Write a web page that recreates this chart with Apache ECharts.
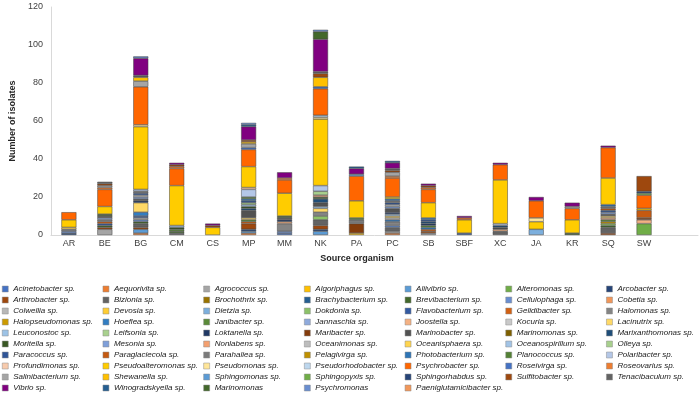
<!DOCTYPE html>
<html>
<head>
<meta charset="utf-8">
<script src="https://cdn.jsdelivr.net/npm/echarts@6/dist/echarts.min.js"></script>
<style>
  html, body { margin: 0; padding: 0; background: #fff; }
  #chart { width: 700px; height: 395px; }
</style>
</head>
<body>
<div id="chart"></div>
<script>
// site labels (last slot is the empty one Excel leaves on the right)
const categories = ["AR", "BE", "BG", "CM", "CS", "MP", "MM", "NK", "PA", "PC", "SB", "SBF", "XC", "JA", "KR", "SQ", "SW", ""];
const yTicks = [0, 20, 40, 60, 80, 100, 120];

// genera in legend / stacking order
const genera = [
  "Acinetobacter sp.", "Aequorivita sp.", "Agrococcus sp.", "Algoriphagus sp.", "Aliivibrio sp.", "Alteromonas sp.", "Arcobacter sp.",
  "Arthrobacter sp.", "Bizionia sp.", "Brochothrix sp.", "Brachybacterium sp.", "Brevibacterium sp.", "Cellulophaga sp.", "Cobetia sp.",
  "Colwellia sp.", "Devosia sp.", "Dietzia sp.", "Dokdonia sp.", "Flavobacterium sp.", "Gelidibacter sp.", "Halomonas sp.",
  "Halopseudomonas sp.", "Hoeflea sp.", "Janibacter sp.", "Jannaschia sp.", "Joostella sp.", "Kocuria sp.", "Lacinutrix sp.",
  "Leuconostoc sp.", "Leifsonia sp.", "Loktanella sp.", "Maribacter sp.", "Marinobacter sp.", "Marinomonas sp.", "Marixanthomonas sp.",
  "Moritella sp.", "Mesonia sp.", "Nonlabens sp.", "Oceanimonas sp.", "Oceanisphaera sp.", "Oceanospirillum sp.", "Olleya sp.",
  "Paracoccus sp.", "Paraglaciecola sp.", "Parahaliea sp.", "Pelagivirga sp.", "Photobacterium sp.", "Planococcus sp.", "Polaribacter sp.",
  "Profundimonas sp.", "Pseudoalteromonas sp.", "Pseudomonas sp.", "Pseudorhodobacter sp.", "Psychrobacter sp.", "Roseivirga sp.", "Roseovarius sp.",
  "Salinibacterium sp.", "Shewanella sp.", "Sphingomonas sp.", "Sphingopyxis sp.", "Sphingorhabdus sp.", "Sulfitobacter sp.", "Tenacibaculum sp.",
  "Vibrio sp.", "Winogradskyella sp.", "Marinomonas", "Psychromonas", "Paeniglutamicibacter sp."
];

const colors = [
  "#4472C4", "#ED7D31", "#A5A5A5", "#FFC000", "#5B9BD5", "#70AD47", "#264478",
  "#9E480E", "#636363", "#997300", "#255E91", "#43682B", "#698ED0", "#F1975A",
  "#B7B7B7", "#FFCD33", "#7CAFDD", "#8CC168", "#335AA1", "#D26012", "#848484",
  "#CC9A00", "#327DC2", "#5A8A39", "#8FAADC", "#F4B183", "#C9C9C9", "#FFD966",
  "#9DC3E6", "#A9D18E", "#203864", "#843C0C", "#525252", "#7F6000", "#1F4E79",
  "#385723", "#7F9FD9", "#F4A070", "#BDBDBD", "#FFD54F", "#A2C4E6", "#A8D08D",
  "#2F5597", "#C55A11", "#7B7B7B", "#BF9000", "#2E75B6", "#538135", "#B4C7E7",
  "#F8CBAD", "#FFCC00", "#FFE699", "#BDD7EE", "#FF6600", "#4472C4", "#ED7D31",
  "#A5A5A5", "#FFC000", "#5B9BD5", "#70AD47", "#264478", "#9E480E", "#636363",
  "#800080", "#255E91", "#43682B", "#698ED0", "#F1975A"
];

// isolates per genus for each site
const AR = [["Arcobacter sp.", 1], ["Cellulophaga sp.", 1], ["Halomonas sp.", 1], ["Lacinutrix sp.", 1],
  ["Pseudoalteromonas sp.", 4], ["Psychrobacter sp.", 4]];
const BE = [["Agrococcus sp.", 3], ["Arthrobacter sp.", 1], ["Brevibacterium sp.", 1], ["Flavobacterium sp.", 1],
  ["Gelidibacter sp.", 1], ["Halomonas sp.", 1], ["Jannaschia sp.", 1], ["Marinobacter sp.", 1], ["Moritella sp.", 1],
  ["Pseudoalteromonas sp.", 4], ["Psychrobacter sp.", 9], ["Roseovarius sp.", 1], ["Salinibacterium sp.", 1],
  ["Sulfitobacter sp.", 1], ["Tenacibaculum sp.", 1]];
const BG = [["Aequorivita sp.", 1], ["Aliivibrio sp.", 2], ["Arthrobacter sp.", 1], ["Bizionia sp.", 2],
  ["Brevibacterium sp.", 1], ["Cellulophaga sp.", 1], ["Colwellia sp.", 1], ["Flavobacterium sp.", 1], ["Hoeflea sp.", 2],
  ["Lacinutrix sp.", 5], ["Loktanella sp.", 1], ["Marinobacter sp.", 1], ["Mesonia sp.", 1], ["Oceanimonas sp.", 1],
  ["Paracoccus sp.", 1], ["Parahaliea sp.", 1], ["Polaribacter sp.", 1], ["Pseudoalteromonas sp.", 33],
  ["Pseudomonas sp.", 1], ["Psychrobacter sp.", 20], ["Salinibacterium sp.", 3], ["Shewanella sp.", 2],
  ["Tenacibaculum sp.", 1], ["Vibrio sp.", 9], ["Psychromonas", 1]];
const CM = [["Bizionia sp.", 1], ["Brevibacterium sp.", 1], ["Janibacter sp.", 1], ["Moritella sp.", 1],
  ["Oceanospirillum sp.", 1], ["Pseudoalteromonas sp.", 21], ["Psychrobacter sp.", 9], ["Roseovarius sp.", 1],
  ["Sulfitobacter sp.", 1], ["Vibrio sp.", 1]];
const CS = [["Pseudoalteromonas sp.", 4], ["Sulfitobacter sp.", 1], ["Vibrio sp.", 1]];
const MP = [["Aequorivita sp.", 1], ["Aliivibrio sp.", 1], ["Arcobacter sp.", 1], ["Arthrobacter sp.", 3],
  ["Gelidibacter sp.", 1], ["Janibacter sp.", 1], ["Lacinutrix sp.", 1], ["Marinobacter sp.", 4],
  ["Marixanthomonas sp.", 1], ["Moritella sp.", 1], ["Oceanospirillum sp.", 1], ["Olleya sp.", 1], ["Paracoccus sp.", 1],
  ["Photobacterium sp.", 1], ["Planococcus sp.", 1], ["Polaribacter sp.", 4], ["Profundimonas sp.", 1],
  ["Pseudoalteromonas sp.", 11], ["Psychrobacter sp.", 9], ["Roseivirga sp.", 1], ["Salinibacterium sp.", 2],
  ["Shewanella sp.", 1], ["Sulfitobacter sp.", 1], ["Vibrio sp.", 7], ["Winogradskyella sp.", 1], ["Psychromonas", 1]];
const MM = [["Acinetobacter sp.", 1], ["Cellulophaga sp.", 1], ["Halomonas sp.", 4], ["Joostella sp.", 1],
  ["Loktanella sp.", 1], ["Marinobacter sp.", 1], ["Moritella sp.", 1], ["Pseudoalteromonas sp.", 12],
  ["Psychrobacter sp.", 7], ["Roseovarius sp.", 1], ["Vibrio sp.", 3]];
const NK = [["Aliivibrio sp.", 2], ["Arcobacter sp.", 1], ["Arthrobacter sp.", 2], ["Bizionia sp.", 3],
  ["Dokdonia sp.", 2], ["Halomonas sp.", 2], ["Lacinutrix sp.", 2], ["Leuconostoc sp.", 1], ["Marinobacter sp.", 2],
  ["Marixanthomonas sp.", 2], ["Moritella sp.", 1], ["Nonlabens sp.", 1], ["Olleya sp.", 2], ["Polaribacter sp.", 3],
  ["Pseudoalteromonas sp.", 35], ["Pseudomonas sp.", 1], ["Pseudorhodobacter sp.", 1], ["Psychrobacter sp.", 14],
  ["Roseivirga sp.", 1], ["Shewanella sp.", 5], ["Sulfitobacter sp.", 2], ["Tenacibaculum sp.", 1], ["Vibrio sp.", 17],
  ["Marinomonas", 4], ["Psychromonas", 1]];
const PA = [["Algoriphagus sp.", 1], ["Maribacter sp.", 5], ["Parahaliea sp.", 2], ["Planococcus sp.", 1],
  ["Pseudoalteromonas sp.", 9], ["Psychrobacter sp.", 13], ["Sphingomonas sp.", 1], ["Vibrio sp.", 3],
  ["Winogradskyella sp.", 1]];
const PC = [["Aequorivita sp.", 1], ["Agrococcus sp.", 1], ["Bizionia sp.", 2], ["Cellulophaga sp.", 1],
  ["Halomonas sp.", 2], ["Hoeflea sp.", 1], ["Kocuria sp.", 1], ["Lacinutrix sp.", 1], ["Leuconostoc sp.", 1],
  ["Loktanella sp.", 1], ["Marinobacter sp.", 2], ["Mesonia sp.", 1], ["Oceanimonas sp.", 1], ["Paracoccus sp.", 1],
  ["Parahaliea sp.", 1], ["Photobacterium sp.", 1], ["Pseudoalteromonas sp.", 1], ["Psychrobacter sp.", 10],
  ["Roseovarius sp.", 1], ["Salinibacterium sp.", 2], ["Sulfitobacter sp.", 1], ["Tenacibaculum sp.", 1],
  ["Vibrio sp.", 3], ["Winogradskyella sp.", 1]];
const SB = [["Agrococcus sp.", 1], ["Arthrobacter sp.", 1], ["Gelidibacter sp.", 1], ["Hoeflea sp.", 1],
  ["Janibacter sp.", 1], ["Loktanella sp.", 1], ["Marixanthomonas sp.", 1], ["Paracoccus sp.", 1],
  ["Photobacterium sp.", 1], ["Pseudoalteromonas sp.", 8], ["Psychrobacter sp.", 7], ["Roseovarius sp.", 1],
  ["Sulfitobacter sp.", 1], ["Vibrio sp.", 1]];
const SBF = [["Flavobacterium sp.", 1], ["Pseudoalteromonas sp.", 7], ["Psychrobacter sp.", 1], ["Vibrio sp.", 1]];
const XC = [["Bizionia sp.", 2], ["Joostella sp.", 1], ["Marinobacter sp.", 1], ["Marixanthomonas sp.", 1],
  ["Polaribacter sp.", 1], ["Pseudoalteromonas sp.", 23], ["Psychrobacter sp.", 8], ["Vibrio sp.", 1]];
const JA = [["Dietzia sp.", 3], ["Pseudoalteromonas sp.", 4], ["Pseudomonas sp.", 2], ["Psychrobacter sp.", 9],
  ["Vibrio sp.", 2]];
const KR = [["Moritella sp.", 1], ["Pseudoalteromonas sp.", 7], ["Psychrobacter sp.", 6], ["Salinibacterium sp.", 1],
  ["Vibrio sp.", 2]];
const SQ = [["Arthrobacter sp.", 1], ["Bizionia sp.", 3], ["Brevibacterium sp.", 1], ["Dokdonia sp.", 1],
  ["Halopseudomonas sp.", 1], ["Janibacter sp.", 1], ["Joostella sp.", 1], ["Lacinutrix sp.", 1], ["Marinobacter sp.", 1],
  ["Mesonia sp.", 1], ["Paracoccus sp.", 1], ["Paraglaciecola sp.", 1], ["Parahaliea sp.", 1], ["Photobacterium sp.", 1],
  ["Pseudoalteromonas sp.", 14], ["Psychrobacter sp.", 16], ["Vibrio sp.", 1]];
const SW = [["Alteromonas sp.", 6], ["Joostella sp.", 2], ["Maribacter sp.", 1], ["Paraglaciecola sp.", 4],
  ["Pseudoalteromonas sp.", 1], ["Psychrobacter sp.", 7], ["Sphingopyxis sp.", 1], ["Sphingorhabdus sp.", 1],
  ["Sulfitobacter sp.", 8]];

const sites = [AR, BE, BG, CM, CS, MP, MM, NK, PA, PC, SB, SBF, XC, JA, KR, SQ, SW].map(s => Object.fromEntries(s));

const font = "Liberation Sans, Arial, sans-serif";
let myChart = echarts.init(document.getElementById("chart"));

let series = genera.map((g, i) => ({
  name: g,
  type: "bar",
  stack: "isolates",
  barWidth: 15,
  itemStyle: {
    color: colors[i],
    borderColor: "#404040",
    borderWidth: 0.5
  },
  data: categories.map((c, k) => (k < sites.length && sites[k][g]) ? sites[k][g] : null)
}));

// one vertical legend per column, 7 columns
let legends = [];
for (let j = 0; j < 7; j++) {
  legends.push({
    orient: "vertical",
    left: 2 + j * 100.7,
    top: 283.5,
    padding: 0,
    itemGap: 0,
    itemWidth: 6,
    itemHeight: 6,
    icon: "rect",
    selectedMode: false,
    itemStyle: { borderColor: "#8c8c8c", borderWidth: 0.5 },
    data: genera.filter((g, i) => i % 7 === j),
    textStyle: { fontFamily: font, fontSize: 8, fontStyle: "italic", color: "#1a1a1a", lineHeight: 11 }
  });
}

let option = {
  animation: false,
  grid: { left: 43, right: 2, top: 7, bottom: 160 },
  xAxis: {
    type: "category",
    data: categories,
    axisTick: { show: false },
    axisLine: { lineStyle: { color: "#D9D9D9" } },
    axisLabel: { fontFamily: font, fontSize: 9, color: "#404040", margin: 4, interval: 0 }
  },
  yAxis: {
    type: "value",
    min: 0,
    max: 120,
    interval: 20,
    name: "Number of isolates",
    nameLocation: "middle",
    nameGap: 29,
    nameTextStyle: { fontFamily: font, fontSize: 9, fontWeight: "bold", color: "#262626" },
    axisLine: { show: true, lineStyle: { color: "#D9D9D9" } },
    axisTick: { show: false },
    splitLine: { show: false },
    axisLabel: {
      fontFamily: font, fontSize: 9, color: "#404040", margin: 8,
      formatter: v => yTicks.includes(v) ? String(v) : ""
    }
  },
  graphic: [{
    type: "text",
    x: 357,
    y: 259,
    style: {
      text: "Source organism",
      font: "bold 9px " + font,
      fill: "#262626",
      textAlign: "center",
      textVerticalAlign: "middle"
    }
  }],
  legend: legends,
  series: series
};
myChart.setOption(option, true);
</script>
</body>
</html>
